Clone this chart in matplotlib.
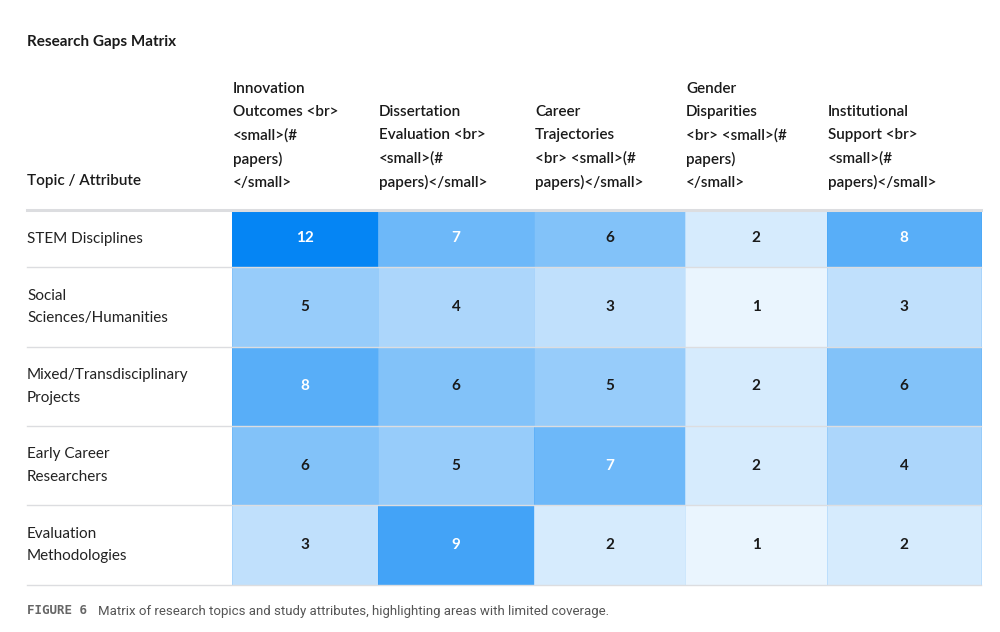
import numpy as np
import matplotlib.pyplot as plt
from matplotlib.colors import LinearSegmentedColormap

# ── Data ───────────────────────────────────────────────────
topics = ["STEM Disciplines", "Social\nSciences/Humanities",
          "Mixed/Transdisciplinary\nProjects", "Early Career\nResearchers",
          "Evaluation\nMethodologies"]
attributes = [
    "Innovation\nOutcomes <br>\n<small>(#\npapers)\n</small>",
    "Dissertation\nEvaluation <br>\n<small>(#\npapers)</small>",
    "Career\nTrajectories\n<br> <small>(#\npapers)</small>",
    "Gender\nDisparities\n<br> <small>(#\npapers)\n</small>",
    "Institutional\nSupport <br>\n<small>(#\npapers)</small>",
]
counts = np.array([
    [12, 7, 6, 2, 8],
    [5, 4, 3, 1, 3],
    [8, 6, 5, 2, 6],
    [6, 5, 7, 2, 4],
    [3, 9, 2, 1, 2],
])

# ── Layout (pixel coordinates) ─────────────────────────────
col_edges = np.array([232, 378, 534, 685, 827, 981])
row_edges = np.array([210, 267, 347, 426, 505, 585])
left = 27

fig = plt.figure(figsize=(10, 6.32), dpi=100)
ax = fig.add_axes([0, 0, 1, 1])
ax.set_xlim(0, 1000)
ax.set_ylim(632, 0)
ax.axis("off")

font = "Lato"
cmap = LinearSegmentedColormap.from_list("blues", ["#ffffff", "#0585f4"])
ax.pcolormesh(col_edges, row_edges, counts, cmap=cmap, vmin=0, vmax=12,
              edgecolors=(0.02, 0.52, 0.96, 0.12), linewidth=0.6)

# grid lines
ax.plot([left, col_edges[-1]], [row_edges[0], row_edges[0]],
        color="#dcdde0", lw=2.2, zorder=3)
for y in row_edges[1:]:
    ax.plot([left, col_edges[-1]], [y, y], color="#dcdde0", lw=1.0, zorder=3)

# title
ax.text(left, 42, "Research Gaps Matrix", fontsize=11, fontweight="bold",
        family=font, color="#1a1a1a", va="center", ha="left")

# header
ax.text(left, 181, "Topic / Attribute", fontsize=11, fontweight="semibold",
        family=font, color="#1a1a1a", va="center", ha="left")
for j, lab in enumerate(attributes):
    ax.text(col_edges[j] + 1, 190, lab, fontsize=11, fontweight="semibold",
            family=font, color="#1a1a1a", va="bottom", ha="left",
            linespacing=1.8)

# rows
for i, t in enumerate(topics):
    yc = (row_edges[i] + row_edges[i + 1]) / 2
    ax.text(left, yc, t, fontsize=11, family=font, color="#222222",
            va="center", ha="left", linespacing=1.8)
    for j in range(len(attributes)):
        xc = (col_edges[j] + col_edges[j + 1]) / 2
        v = counts[i, j]
        ax.text(xc, yc, str(v), fontsize=11, fontweight="bold", family=font,
                color="white" if v >= 7 else "#1a1a1a",
                ha="center", va="center")

# caption
ax.text(left, 611, "FIGURE 6", fontsize=9, family="DejaVu Sans Mono",
        fontweight="bold", color="#666666", va="center", ha="left")
ax.text(98, 611, "Matrix of research topics and study attributes, "
        "highlighting areas with limited coverage.",
        fontsize=9.5, family="Roboto", color="#555555", va="center", ha="left")

plt.savefig("out.png", dpi=100)
plt.close()
